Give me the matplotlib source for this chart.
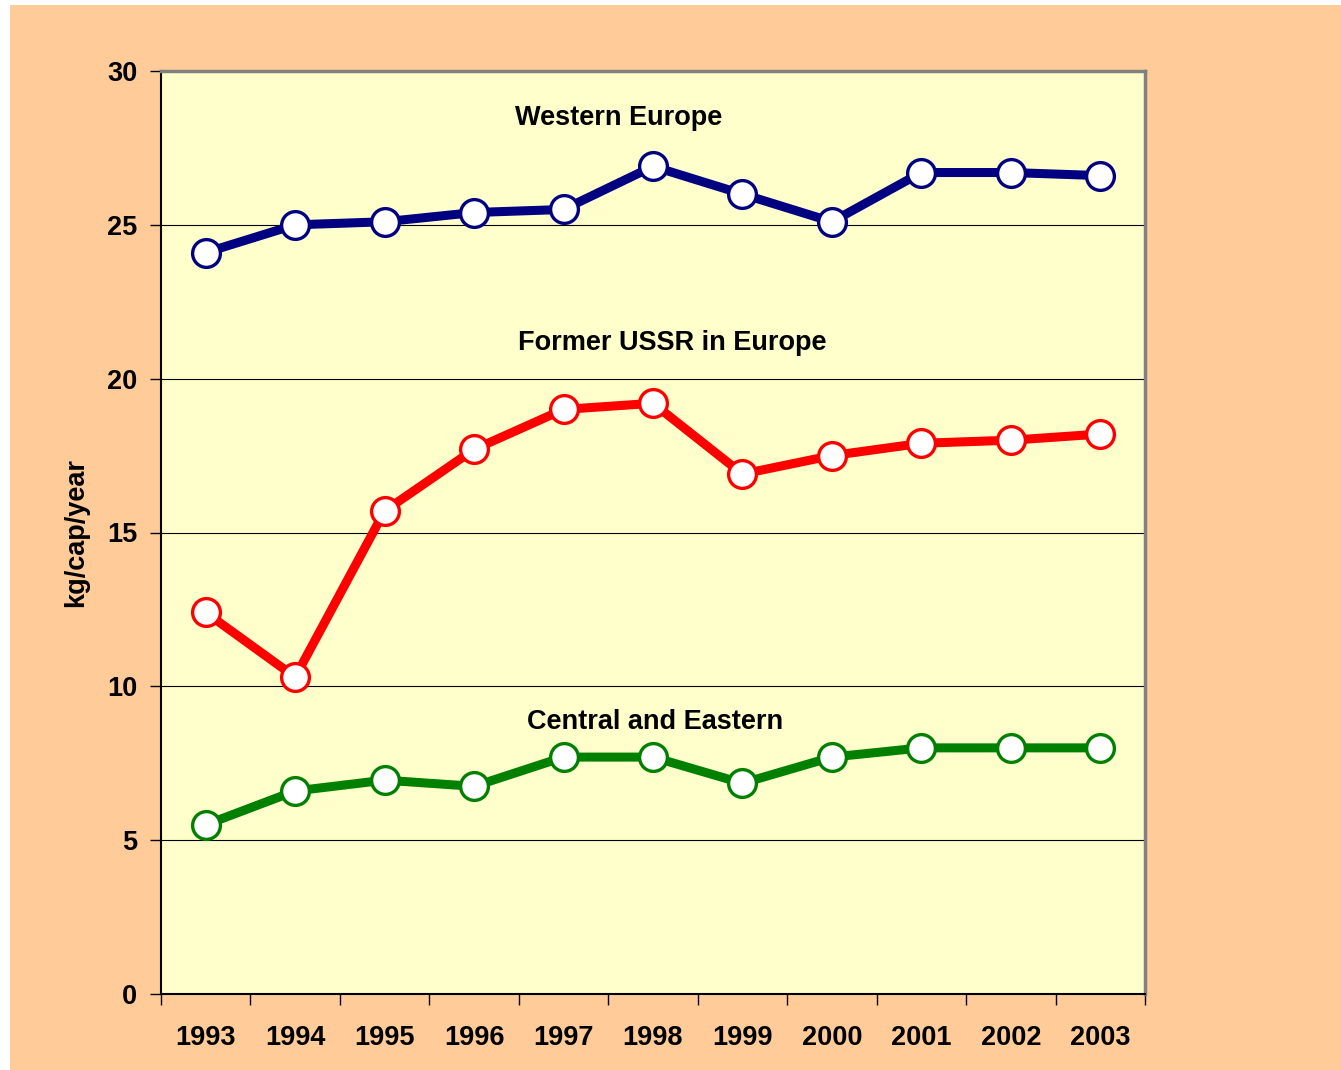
import matplotlib

matplotlib.use("Agg")
import matplotlib.pyplot as plt
from matplotlib.patches import Rectangle

years = ["1993", "1994", "1995", "1996", "1997", "1998", "1999", "2000", "2001", "2002", "2003"]
western = [24.1, 25.0, 25.1, 25.4, 25.5, 26.9, 26.0, 25.1, 26.7, 26.7, 26.6]
former_ussr = [12.4, 10.3, 15.7, 17.7, 19.0, 19.2, 16.9, 17.5, 17.9, 18.0, 18.2]
central_eastern = [5.5, 6.6, 6.95, 6.75, 7.7, 7.7, 6.85, 7.7, 8.0, 8.0, 8.0]

series = [
    ("Western Europe", western, "#000080", (4.62, 28.47)),
    ("Former USSR in Europe", former_ussr, "#FF0000", (5.21, 21.15)),
    ("Central and Eastern", central_eastern, "#008000", (5.02, 8.85)),
]

plt.rcParams["font.family"] = ["Liberation Sans", "DejaVu Sans"]
plt.rcParams["font.weight"] = "bold"

fig = plt.figure(figsize=(13.41, 10.70), dpi=100, facecolor="white")
# orange chart area (the picture has a thin white margin at left/top)
fig.patches.append(Rectangle((10 / 1341, 0), 1 - 10 / 1341, 1 - 5 / 1070,
                             transform=fig.transFigure, facecolor="#FFCC99",
                             edgecolor="none", zorder=-1))

ax = fig.add_axes([161 / 1341, 76 / 1070, (1145 - 161) / 1341, (994 - 71) / 1070])
ax.set_facecolor("#FFFFCC")

x = list(range(len(years)))
for name, vals, col, (tx, ty) in series:
    ax.plot(x, vals, color=col, lw=6.5, marker="o", ms=20, mfc="white",
            mec=col, mew=2.4, zorder=3, solid_joinstyle="miter")
    ax.text(tx, ty, name, ha="center", va="center", fontsize=19.5,
            fontweight="bold", color="black")

ax.set_xlim(-0.5, len(years) - 0.5)
ax.set_ylim(0, 30)
ax.set_yticks(range(0, 31, 5))
ax.yaxis.grid(True, color="black", lw=0.8)
ax.set_axisbelow(True)

ax.set_xticks([i + 0.5 for i in range(-1, len(years))])
ax.set_xticklabels([])
ax.set_xticks(x, minor=True)
ax.set_xticklabels(years, minor=True)
ax.tick_params(axis="x", which="major", direction="out", length=8, width=1, color="black")
ax.tick_params(axis="x", which="minor", length=0, pad=22, labelsize=19.5)
ax.tick_params(axis="y", direction="out", length=8, width=1, pad=9, labelsize=19.5)

for lab in ax.get_xticklabels(minor=True) + ax.get_yticklabels():
    lab.set_fontweight("bold")

ax.spines["left"].set_color("black")
ax.spines["bottom"].set_color("black")
ax.spines["left"].set_linewidth(1.5)
ax.spines["bottom"].set_linewidth(1.5)
ax.spines["top"].set_color("#808080")
ax.spines["right"].set_color("#808080")
ax.spines["top"].set_linewidth(2.5)
ax.spines["right"].set_linewidth(2.5)

ax.set_ylabel("kg/cap/year", fontsize=19.5, fontweight="bold", labelpad=13)

fig.savefig("out.png", dpi=100, facecolor=fig.get_facecolor())
